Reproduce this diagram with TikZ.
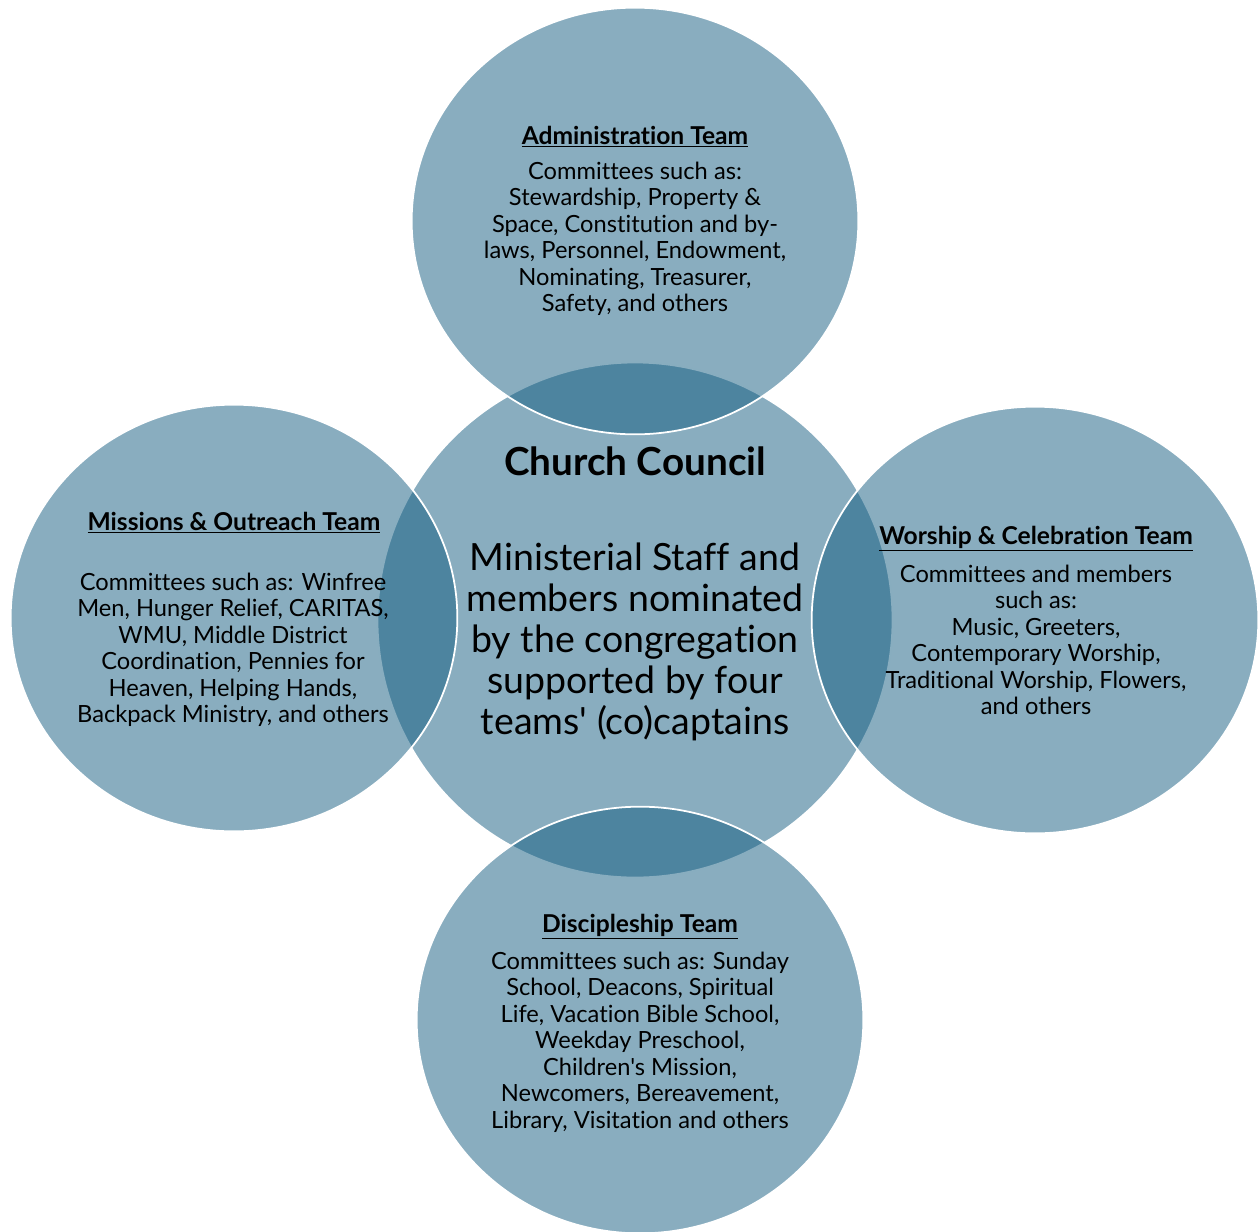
\documentclass[tikz,border=0pt]{standalone}
\usepackage{fontspec}
\setmainfont{Lato}[Ligatures={TeXOff,NoCommon}]
\usetikzlibrary{shapes.geometric,positioning}
\definecolor{teamblue}{RGB}{19,92,128}
\tikzset{
	team/.style={ellipse, draw=white, line width=1.5pt, fill=teamblue, fill opacity=.5,
		inner sep=0pt, minimum width=13.4cm, minimum height=12.8cm},
	teamhead/.style={font={\fontsize{21}{22.6}\selectfont\bfseries}, align=center, inner sep=0pt},
	teamtext/.style={font={\fontsize{20.2}{22.6}\selectfont}, align=center, inner sep=0pt},
}
\newcommand\teamtitle[1]{\underline{#1}}
\begin{document}
\begin{tikzpicture}[x=0.03cm, y=-0.03cm]
	\useasboundingbox (0,0) rectangle (1260,1231);
	% circles
	\node[team, minimum width=15.45cm, minimum height=15.45cm] (council) at (635,620) {};
	\node[team] (admin) at (635,221) {};
	\node[team] (missions) at (234,618) {};
	\node[team] (worship) at (1035,620) {};
	\node[team] (disciple) at (640,1020) {};

	% council
	\node[font={\fontsize{33}{35}\selectfont\bfseries}, inner sep=0pt] (council-head) at (635,461) {Church Council};
	\node[font={\fontsize{32}{35}\selectfont}, align=center, inner sep=0pt] (council-text) at (635,642)
		{Ministerial Staff and\\members nominated\\by the congregation\\supported by four\\teams' (co)captains};

	% teams
	\node[teamhead] (admin-head) at (635,137) {\teamtitle{Administration Team}};
	\node[teamtext] (admin-text) at (635,239)
		{Committees such as:\\Stewardship, Property \&\\Space, Constitution and by-\\laws, Personnel, Endowment,\\Nominating, Treasurer,\\Safety, and others};

	\node[teamhead] (missions-head) at (234,523) {\teamtitle{Missions \& Outreach Team}};
	\node[teamtext] (missions-text) at (233,650)
		{Committees such as: Winfree\\Men, Hunger Relief, CARITAS,\\WMU, Middle District\\Coordination, Pennies for\\Heaven, Helping Hands,\\Backpack Ministry, and others};

	\node[teamhead] (worship-head) at (1036,539) {\teamtitle{Worship \& Celebration Team}};
	\node[teamtext] (worship-text) at (1036,640)
		{Committees and members\\such as:\\Music, Greeters,\\Contemporary Worship,\\Traditional Worship, Flowers,\\and others};

	\node[teamhead] (disciple-head) at (640,927) {\teamtitle{Discipleship Team}};
	\node[teamtext] (disciple-text) at (640,1042)
		{Committees such as: Sunday\\School, Deacons, Spiritual\\Life, Vacation Bible School,\\Weekday Preschool,\\Children's Mission,\\Newcomers, Bereavement,\\Library, Visitation and others};
\end{tikzpicture}
\end{document}
